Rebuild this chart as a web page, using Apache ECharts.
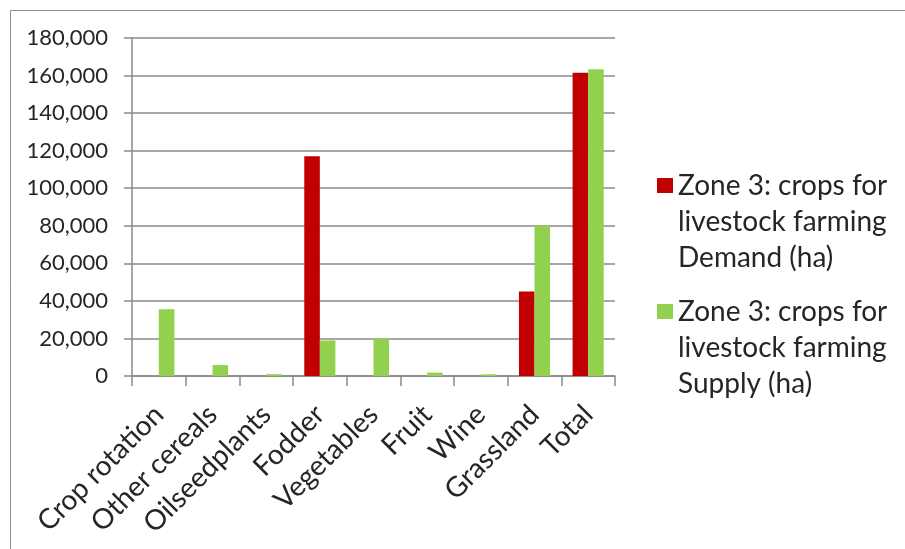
<!DOCTYPE html>
<html>
<head>
<meta charset="utf-8">
<script src="https://cdn.jsdelivr.net/npm/echarts@6/dist/echarts.min.js"></script>
<style>
html,body{margin:0;padding:0;background:#fff;}
#c{width:905px;height:549px;}
</style>
</head>
<body>
<div id="c"></div>
<script>
const categories = ['Crop rotation','Other cereals','Oilseedplants','Fodder','Vegetables','Fruit','Wine','Grassland','Total'];
const demandName = 'Zone 3: crops for\nlivestock farming\nDemand (ha)';
const supplyName = 'Zone 3: crops for\nlivestock farming\nSupply (ha)';
const demandValues = [0, 0, 0, 117000, 0, 0, 0, 45000, 161500];
const supplyValues = [35500, 5800, 1000, 18900, 20000, 1800, 900, 80000, 163300];
const yTicks = {min: 0, max: 180000, interval: 20000};

const chart = echarts.init(document.getElementById('c'), null, {renderer: 'canvas'});
const FONT = 'Lato';
const TXT = '#262626';
const GRID = '#8a8a8a';
const legendText = {fontFamily: FONT, fontSize: 28, color: TXT, lineHeight: 36};
const legendFmt = name => '\n\n' + name;
chart.setOption({
  animation: false,
  backgroundColor: '#fff',
  graphic: [{
    type: 'polyline', silent: true,
    shape: {points: [[10.5, 560], [10.5, 10.5], [910, 10.5]]},
    style: {fill: 'none', stroke: '#8f8f8f', lineWidth: 1}
  }],
  grid: {left: 132, right: 290, top: 38, bottom: 173, containLabel: false},
  legend: [{
    orient: 'vertical', left: 657, top: 95.5, padding: 0,
    icon: 'rect', itemWidth: 16, itemHeight: 15,
    data: [demandName], textStyle: legendText, formatter: legendFmt, selectedMode: false
  }, {
    orient: 'vertical', left: 657, top: 221.5, padding: 0,
    icon: 'rect', itemWidth: 16, itemHeight: 15,
    data: [supplyName], textStyle: legendText, formatter: legendFmt, selectedMode: false
  }],
  xAxis: {
    type: 'category', data: categories,
    axisLine: {show: true, lineStyle: {color: GRID, width: 1.5}},
    axisTick: {show: true, length: 10, alignWithLabel: false, lineStyle: {color: GRID, width: 1.5}},
    axisLabel: {rotate: 45, margin: 34, fontFamily: FONT, fontSize: 28, color: TXT, interval: 0},
    splitLine: {show: false}
  },
  yAxis: {
    type: 'value', min: yTicks.min, max: yTicks.max, interval: yTicks.interval,
    axisLine: {show: true, lineStyle: {color: GRID, width: 1.5}},
    axisTick: {show: true, length: 8, lineStyle: {color: GRID, width: 1.5}},
    axisLabel: {margin: 24, fontFamily: FONT, fontSize: 22, color: TXT,
      formatter: v => v.toLocaleString('en-US')},
    splitLine: {show: true, lineStyle: {color: GRID, width: 1.5}}
  },
  series: [{
    name: demandName, type: 'bar', data: demandValues,
    itemStyle: {color: '#c00000'}, barGap: '0%', barCategoryGap: '42%'
  }, {
    name: supplyName, type: 'bar', data: supplyValues,
    itemStyle: {color: '#92d050'}, barGap: '0%', barCategoryGap: '42%'
  }]
});
</script>
</body>
</html>
